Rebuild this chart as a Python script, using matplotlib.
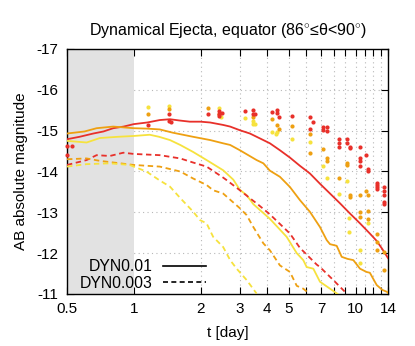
import numpy as np
import matplotlib
matplotlib.use("Agg")
import matplotlib.pyplot as plt
from matplotlib.lines import Line2D
from matplotlib.ticker import FixedLocator

plt.rcParams['font.family'] = ['Liberation Sans', 'DejaVu Sans']
plt.rcParams['axes.unicode_minus'] = False
plt.rcParams['mathtext.fontset'] = 'custom'
plt.rcParams['mathtext.rm'] = 'Liberation Sans'

RED = '#e8302a'
ORANGE = '#eea012'
YELLOW = '#f6e23e'

# model light curves, DYN0.01 (solid)
t_red_s = [0.5, 0.57, 0.657, 0.73, 0.808, 0.9, 1.0, 1.15, 1.31, 1.456, 1.6, 1.79, 2.0, 2.21,
           2.53, 2.72, 3.01, 3.34, 3.58, 4.11, 4.56, 5.06, 5.61, 6.23, 6.91, 7.67, 8.51,
           9.44, 10.47, 11.6, 12.45, 13.2, 14.0]
m_red_s = [-14.79, -14.85, -14.93, -14.98, -15.06, -15.10, -15.16, -15.20, -15.26, -15.28,
           -15.25, -15.22, -15.22, -15.20, -15.14, -15.10, -15.01, -14.93, -14.85, -14.69,
           -14.52, -14.34, -14.14, -13.95, -13.70, -13.46, -13.22, -12.97, -12.73, -12.48,
           -12.30, -12.10, -11.88]
t_org_s = [0.5, 0.6, 0.68, 0.808, 0.9, 1.0, 1.15, 1.31, 1.5, 1.85, 2.21, 2.53, 2.72, 3.01,
           3.58, 3.84, 4.11, 4.56, 5.06, 5.61, 6.23, 6.91, 7.41, 7.67, 8.22, 8.66, 9.2, 9.77,
           10.47, 11.2, 11.6, 12.45, 13.2, 13.9, 14.0]
m_org_s = [-14.93, -14.98, -15.06, -15.10, -15.08, -15.06, -15.05, -15.03, -14.95, -14.85,
           -14.77, -14.69, -14.65, -14.52, -14.28, -14.20, -14.02, -13.87, -13.62, -13.30,
           -13.01, -12.64, -12.32, -12.22, -12.18, -11.91, -11.86, -11.83, -11.62, -11.54,
           -11.52, -11.22, -11.10, -11.05, -11.02]
t_yel_s = [0.5, 0.613, 0.704, 0.85, 1.0, 1.18, 1.3, 1.456, 1.62, 1.85, 2.13, 2.53, 2.81,
           3.01, 3.23, 3.46, 4.11, 4.89, 5.43, 5.81, 6.02, 6.45, 6.91, 7.67, 8.3]
m_yel_s = [-14.75, -14.71, -14.82, -14.85, -14.87, -14.90, -14.85, -14.77, -14.65, -14.48,
           -14.28, -14.03, -13.80, -13.55, -13.42, -13.20, -12.84, -12.40, -12.00, -11.83,
           -11.66, -11.62, -11.30, -11.13, -11.0]

# model light curves, DYN0.003 (dashed)
t_red_d = [0.5, 0.613, 0.68, 0.78, 0.897, 1.0, 1.31, 1.62, 1.85, 2.13, 2.53, 2.62, 3.01,
           3.46, 3.58, 4.11, 5.06, 5.61, 6.68, 6.91, 7.94, 9.12]
m_red_d = [-14.16, -14.28, -14.40, -14.38, -14.46, -14.43, -14.40, -14.32, -14.22, -14.12,
           -13.85, -13.79, -13.54, -13.28, -13.22, -12.95, -12.48, -12.13, -11.72, -11.66,
           -11.34, -11.01]
t_org_d = [0.5, 0.613, 0.704, 1.0, 1.31, 1.62, 1.85, 2.13, 2.28, 2.53, 3.01, 3.23, 3.46,
           3.84, 4.11, 4.56, 5.06, 5.43, 5.81, 6.12]
m_org_d = [-14.30, -14.32, -14.26, -14.16, -14.12, -14.00, -13.83, -13.67, -13.54, -13.46,
           -13.10, -12.93, -12.64, -12.24, -12.07, -11.70, -11.54, -11.20, -11.13, -11.03]
t_yel_d = [0.5, 0.613, 0.78, 0.96, 1.0, 1.14, 1.31, 1.456, 1.62, 1.85, 1.99, 2.13, 2.28,
           2.53, 2.72, 2.91, 3.23, 3.58]
m_yel_d = [-14.12, -14.18, -14.20, -14.16, -14.12, -14.00, -13.78, -13.63, -13.35, -13.02,
           -12.81, -12.73, -12.40, -12.15, -11.83, -11.62, -11.34, -11.01]

# observed points
t_red_p = [0.5, 0.528, 0.5, 1.163, 1.446, 1.446, 1.47, 2.17, 2.43, 2.43, 2.49, 2.43, 3.17,
           3.46, 3.46, 3.52, 4.19, 4.44, 4.44, 4.52, 5.18, 6.23, 6.45, 6.23, 7.15, 7.15,
           7.44, 7.44, 8.43, 8.43, 8.43, 9.18, 9.18, 9.44, 9.44, 10.47, 10.47, 10.47, 10.47,
           11.14, 11.4, 11.4, 12.45, 12.45, 12.45, 12.45, 13.5, 13.5, 13.5, 13.5, 13.5]
m_red_p = [-14.63, -14.62, -14.40, -15.14, -15.42, -15.24, -15.20, -15.42, -15.49, -15.42,
           -15.44, -15.36, -15.49, -15.50, -15.42, -15.42, -15.46, -15.50, -15.44, -15.33,
           -15.36, -15.34, -15.20, -15.03, -15.10, -15.01, -15.10, -14.99, -14.79, -14.69,
           -14.61, -14.79, -14.69, -14.61, -14.57, -14.61, -14.32, -14.26, -14.13, -14.40,
           -14.05, -14.02, -13.72, -13.66, -13.61, -13.56, -13.63, -13.53, -13.42, -13.26,
           -13.20]
t_org_p = [1.163, 1.446, 2.17, 2.43, 3.46, 4.19, 4.44, 4.52, 5.18, 6.23, 6.23, 7.15, 7.44,
           7.44, 8.43, 9.18, 9.18, 9.44, 9.44, 10.47, 10.47, 10.47, 11.14, 11.4, 11.4, 11.4,
           12.45, 12.45, 12.45, 13.5, 13.5]
m_org_p = [-15.42, -15.52, -15.55, -15.40, -15.34, -15.28, -15.14, -15.03, -15.12, -14.93,
           -14.46, -14.54, -14.32, -14.26, -13.83, -14.21, -14.16, -13.42, -13.38, -13.42,
           -13.01, -12.89, -13.53, -13.42, -13.04, -12.83, -12.48, -12.28, -12.07, -12.03,
           -11.58]
t_yel_p = [1.163, 1.446, 2.43, 2.47, 3.17, 3.46, 3.46, 3.52, 4.19, 4.44, 4.39, 5.18, 6.23,
           7.15, 7.44, 8.43, 9.18, 9.37, 9.37, 10.47, 10.47, 11.4]
m_yel_p = [-15.59, -15.60, -15.55, -15.34, -15.32, -15.24, -15.16, -15.16, -14.97, -14.96,
           -14.93, -14.79, -14.73, -14.13, -13.83, -13.45, -13.77, -12.87, -12.52, -12.07,
           -11.76, -12.75]

x_major = [0.5, 1, 2, 3, 4, 5, 7, 10, 14]
x_minor = [6, 8, 9, 11, 12, 13]
y_ticks = [-17, -16, -15, -14, -13, -12, -11]

fig = plt.figure(figsize=(4.15, 3.46), dpi=100)
ax = fig.add_axes([0.1614, 0.1503, 0.7735, 0.7081])

ax.axvspan(0.5, 1.0, color='#e2e2e2', zorder=1, lw=0)

ax.plot(t_red_s, m_red_s, '-', color=RED, lw=1.3, zorder=3)
ax.plot(t_org_s, m_org_s, '-', color=ORANGE, lw=1.3, zorder=3)
ax.plot(t_yel_s, m_yel_s, '-', color=YELLOW, lw=1.3, zorder=3)
ax.plot(t_red_d, m_red_d, '--', color=RED, lw=1.3, dashes=(3, 2), zorder=3)
ax.plot(t_org_d, m_org_d, '--', color=ORANGE, lw=1.3, dashes=(3, 2), zorder=3)
ax.plot(t_yel_d, m_yel_d, '--', color=YELLOW, lw=1.3, dashes=(3, 2), zorder=3)

ax.scatter(t_yel_p, m_yel_p, s=9, color=YELLOW, lw=0, zorder=4, clip_on=False)
ax.scatter(t_org_p, m_org_p, s=9, color=ORANGE, lw=0, zorder=4, clip_on=False)
ax.scatter(t_red_p, m_red_p, s=9, color=RED, lw=0, zorder=4, clip_on=False)

ax.set_xscale('log')
ax.set_xlim(0.5, 14)
ax.set_ylim(-11, -17)
ax.xaxis.set_major_locator(FixedLocator(x_major))
ax.xaxis.set_minor_locator(FixedLocator(x_minor))
ax.set_xticklabels([str(v) for v in x_major])
ax.xaxis.set_minor_formatter(plt.NullFormatter())
ax.set_yticks(y_ticks)
ax.set_yticklabels([str(v) for v in y_ticks])
ax.tick_params(which='both', direction='in', top=True, right=True, length=5,
               width=0.8, labelsize=11, pad=6)

ax.set_axisbelow(True)
for v in [2, 3, 4, 5, 6, 7, 8, 9, 10, 11, 12, 13]:
    ax.axvline(v, color='#b8b8b8', lw=0.8, ls=(0, (1, 3)), zorder=0.5)
for v in [-16, -15, -14, -13, -12]:
    ax.axhline(v, color='#b8b8b8', lw=0.8, ls=(0, (1, 3)), zorder=0.5)

ax.set_xlabel('t [day]', fontsize=11, labelpad=7)
ax.set_ylabel('AB absolute magnitude', fontsize=11, labelpad=6)
ax.set_title('Dynamical Ejecta, equator (86$^{\\circ}$≤θ<90$^{\\circ}$)', fontsize=11.5, pad=10)

handles = [Line2D([], [], color='black', lw=1.2, ls='-'),
           Line2D([], [], color='black', lw=1.2, ls='--', dashes=(3, 2))]
ax.legend(handles, ['DYN0.01', 'DYN0.003'], loc='lower left', bbox_to_anchor=(-0.005, -0.045),
          frameon=False, markerfirst=False, handlelength=2.7, fontsize=11.3,
          labelspacing=0.12, handletextpad=0.7)

for s in ax.spines.values():
    s.set_linewidth(1.0)

fig.savefig('out.png', dpi=100)
